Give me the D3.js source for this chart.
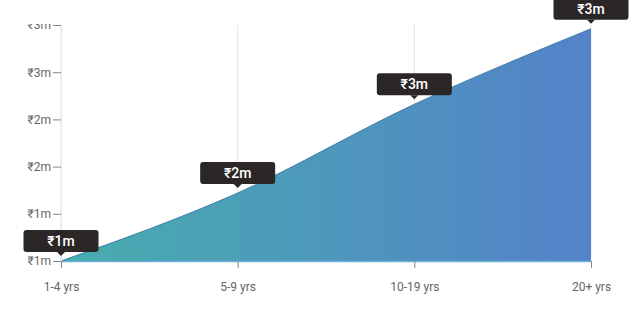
<!DOCTYPE html>
<html>
<head>
<meta charset="utf-8">
<script src="https://cdn.jsdelivr.net/npm/d3@7"></script>
<style>
  body { margin: 0; background: #fff; font-family: Roboto, "Noto Sans", sans-serif; }
  svg text { font-family: Roboto, "Noto Sans", sans-serif; }
</style>
</head>
<body>
<div class="canvas"></div>
<script>
// data (millions of rupees)
const categories = ['1-4 yrs', '5-9 yrs', '10-19 yrs', '20+ yrs'];
const values = [1.0, 1.72, 2.66, 3.46];
const valueLabels = ['₹1m', '₹2m', '₹3m', '₹3m'];
const yTicks = [1.0, 1.5, 2.0, 2.5, 3.0, 3.5];
const yTickLabels = ['₹1m', '₹1m', '₹2m', '₹2m', '₹3m', '₹3m'];

const dims = { width: 637, height: 310 };
const margin = { top: 25, left: 61, right: 46, bottom: 49 };

const svg = d3.select('.canvas')
  .append('svg')
  .attr('width', dims.width)
  .attr('height', dims.height);

const x = d3.scalePoint()
  .domain(categories)
  .range([margin.left, dims.width - margin.right]);

const y = d3.scaleLinear()
  .domain([1.0, 3.5])
  .range([dims.height - margin.bottom, margin.top]);

const data = categories.map((c, i) => ({ cat: c, value: values[i], label: valueLabels[i] }));

const defs = svg.append('defs');
// gradient fill left to right
const grad = defs.append('linearGradient')
  .attr('id', 'fillGrad')
  .attr('gradientUnits', 'userSpaceOnUse')
  .attr('x1', x.range()[0]).attr('x2', x.range()[1])
  .attr('y1', 0).attr('y2', 0);
grad.append('stop').attr('offset', '0%').attr('stop-color', '#47adae');
grad.append('stop').attr('offset', '100%').attr('stop-color', '#5482c9');

// the top of the plot cuts the top tick label in half
// (clip rect is in the axis group's local coords, which are shifted by margin.left)
defs.append('clipPath').attr('id', 'axisClip')
  .append('rect')
  .attr('x', -margin.left).attr('y', margin.top - 1)
  .attr('width', dims.width).attr('height', dims.height);

// vertical grid lines
svg.append('g')
  .selectAll('line')
  .data(categories)
  .enter().append('line')
    .attr('x1', d => x(d)).attr('x2', d => x(d))
    .attr('y1', margin.top).attr('y2', y(1.0))
    .attr('stroke', '#e6e6e6');

const area = d3.area()
  .x(d => x(d.cat))
  .y0(y(1.0))
  .y1(d => y(d.value))
  .curve(d3.curveMonotoneX);

const line = d3.line()
  .x(d => x(d.cat))
  .y(d => y(d.value))
  .curve(d3.curveMonotoneX);

svg.append('path')
  .datum(data)
  .attr('d', area)
  .attr('fill', 'url(#fillGrad)');

svg.append('path')
  .datum(data)
  .attr('d', line)
  .attr('fill', 'none')
  .attr('stroke', '#3f7fa8')
  .attr('stroke-width', 1);

// baseline
svg.append('line')
  .attr('x1', x.range()[0]).attr('x2', x.range()[1])
  .attr('y1', y(1.0) + 0.5).attr('y2', y(1.0) + 0.5)
  .attr('stroke', '#6fb0d8').attr('stroke-width', 1.5);

// y axis
const yAxis = d3.axisLeft(y)
  .tickValues(yTicks)
  .tickFormat((d, i) => yTickLabels[i])
  .tickSize(8)
  .tickPadding(2);
const yg = svg.append('g')
  .attr('transform', `translate(${margin.left}, 0)`)
  .attr('clip-path', 'url(#axisClip)')
  .call(yAxis)
  .attr('font-family', 'Roboto, sans-serif')
  .attr('font-size', 12);
yg.select('.domain').attr('stroke', '#e6e6e6');
yg.selectAll('.tick line').attr('stroke', '#888');
yg.selectAll('.tick text').attr('fill', '#666');

// x axis
const xAxis = d3.axisBottom(x).tickSize(7).tickPadding(14);
const xg = svg.append('g')
  .attr('transform', `translate(0, ${y(1.0)})`)
  .call(xAxis)
  .attr('font-family', 'Roboto, sans-serif')
  .attr('font-size', 12);
xg.select('.domain').remove();
xg.selectAll('.tick line').attr('stroke', '#888');
xg.selectAll('.tick text').attr('fill', '#666');

// value tooltips
const tipW = 75, tipH = 22, gap = 9;
const tips = svg.append('g')
  .selectAll('g')
  .data(data)
  .enter().append('g')
    .attr('transform', d => `translate(${x(d.cat)}, ${y(d.value) - gap})`);

tips.append('rect')
  .attr('x', -tipW / 2).attr('y', -tipH)
  .attr('width', tipW).attr('height', tipH)
  .attr('rx', 3)
  .attr('fill', '#2b2727');

tips.append('path')
  .attr('d', 'M-4,0 L0,4 L4,0 Z')
  .attr('fill', '#2b2727');

tips.append('text')
  .attr('y', -tipH / 2)
  .attr('dy', '0.36em')
  .attr('text-anchor', 'middle')
  .attr('fill', '#fff')
  .attr('font-family', 'Roboto, sans-serif')
  .attr('font-size', 14)
  .attr('font-weight', 500)
  .text(d => d.label);
</script>
</body>
</html>
